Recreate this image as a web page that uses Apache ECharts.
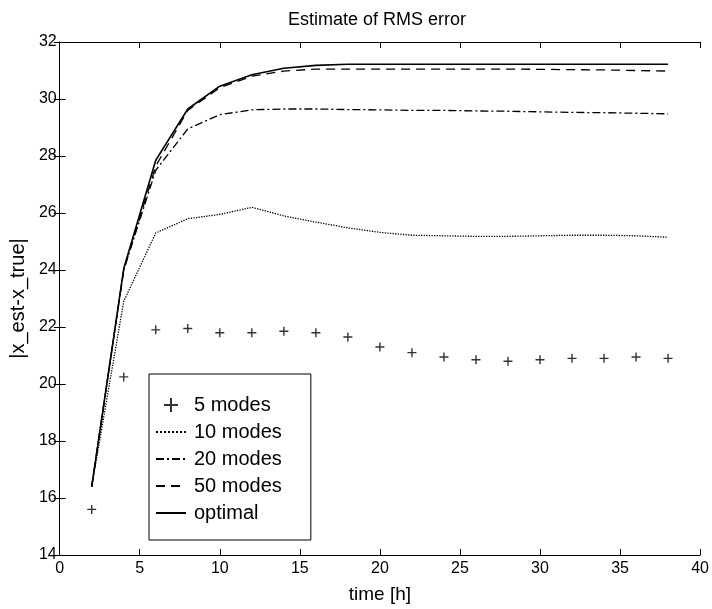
<!DOCTYPE html>
<html>
<head>
<meta charset="utf-8">
<script src="https://cdn.jsdelivr.net/npm/echarts@6/dist/echarts.min.js"></script>
<style>
  html, body { margin: 0; padding: 0; background: #fff; }
  #chart { width: 712px; height: 609px; }
</style>
</head>
<body>
<div id="chart"></div>
<script>
// time [h]
var times = [2, 4, 6, 8, 10, 12, 14, 16, 18, 20, 22, 24, 26, 28, 30, 32, 34, 36, 38];
var modes5 = [15.6, 20.25, 21.9, 21.95, 21.8, 21.8, 21.85, 21.8, 21.65, 21.3, 21.1, 20.95, 20.85, 20.8, 20.85, 20.9, 20.9, 20.95, 20.9];
var modes10 = [16.4, 22.9, 25.3, 25.8, 25.95, 26.2, 25.9, 25.68, 25.48, 25.32, 25.22, 25.2, 25.18, 25.18, 25.2, 25.22, 25.22, 25.2, 25.15];
var modes20 = [16.4, 24.0, 27.5, 28.95, 29.45, 29.62, 29.65, 29.65, 29.63, 29.62, 29.6, 29.6, 29.58, 29.57, 29.55, 29.53, 29.52, 29.5, 29.48];
var modes50 = [16.4, 24.0, 27.65, 29.6, 30.4, 30.8, 30.98, 31.05, 31.05, 31.05, 31.05, 31.05, 31.05, 31.05, 31.04, 31.03, 31.02, 31.0, 30.98];
var optimal = [16.4, 24.05, 27.85, 29.65, 30.45, 30.85, 31.08, 31.18, 31.22, 31.22, 31.22, 31.22, 31.22, 31.22, 31.22, 31.22, 31.22, 31.22, 31.22];
var names = ['5 modes', '10 modes', '20 modes', '50 modes', 'optimal'];

function pairs(ys) {
  return times.map(function (t, i) { return [t, ys[i]]; });
}

var FONT = 'Liberation Sans';
var chart = echarts.init(document.getElementById('chart'));

var tickAxis = {
  axisLine: { show: true, lineStyle: { color: '#000', width: 1 } },
  axisTick: { show: true, inside: true, length: 6, lineStyle: { color: '#000' } },
  splitLine: { show: false }
};

function lineSeries(name, data, width, type) {
  return {
    name: name,
    type: 'line',
    data: pairs(data),
    symbol: 'none',
    silent: true,
    lineStyle: { color: '#000', width: width, type: type },
    itemStyle: { color: '#000' }
  };
}

// legend entries: no dot on the line samples
var legendData = names.map(function (n, i) {
  return i === 0 ? { name: n } : { name: n, itemStyle: { opacity: 0 } };
});

var option = {
  backgroundColor: '#fff',
  animation: false,
  title: {
    text: 'Estimate of RMS error',
    left: 372,
    textAlign: 'center',
    top: 6,
    textStyle: { fontFamily: FONT, fontSize: 18, fontWeight: 'normal', color: '#000' }
  },
  grid: { left: 53, right: 11, top: 42, bottom: 52 },
  legend: {
    orient: 'vertical',
    left: 149,
    top: 374,
    padding: [21, 29, 17, 6],
    itemGap: 7,
    itemWidth: 30,
    itemHeight: 14,
    borderColor: '#000',
    borderWidth: 1,
    backgroundColor: '#fff',
    selectedMode: false,
    textStyle: { fontFamily: FONT, fontSize: 20, color: '#000', lineHeight: 20, padding: [0, 0, 0, 3] },
    data: legendData
  },
  xAxis: [
    Object.assign({
      type: 'value', min: 0, max: 40, interval: 5,
      name: 'time [h]', nameLocation: 'middle', nameGap: 30,
      nameTextStyle: { fontFamily: FONT, fontSize: 19, color: '#000' },
      axisLabel: { fontFamily: FONT, fontSize: 16, color: '#000', margin: 6 }
    }, tickAxis),
    Object.assign({
      type: 'value', min: 0, max: 40, interval: 5, position: 'top',
      axisLabel: { show: false }
    }, tickAxis)
  ],
  yAxis: [
    Object.assign({
      type: 'value', min: 14, max: 32, interval: 2,
      name: '|x_est-x_true|', nameLocation: 'middle', nameGap: 26,
      nameTextStyle: { fontFamily: FONT, fontSize: 20, color: '#000' },
      axisLabel: { fontFamily: FONT, fontSize: 16, color: '#000', margin: 3 }
    }, tickAxis),
    Object.assign({
      type: 'value', min: 14, max: 32, interval: 2, position: 'right',
      axisLabel: { show: false }
    }, tickAxis)
  ],
  series: [
    {
      name: '5 modes',
      type: 'scatter',
      data: pairs(modes5),
      symbol: 'path://M5,0 L5,10 M0,5 L10,5',
      symbolSize: 9,
      silent: true,
      itemStyle: { color: 'transparent', borderColor: '#000', borderWidth: 1.4 }
    },
    lineSeries('10 modes', modes10, 1.3, 'dotted'),
    lineSeries('20 modes', modes20, 1.3, [8, 3, 2, 3]),
    lineSeries('50 modes', modes50, 1.3, [9, 6]),
    lineSeries('optimal', optimal, 1.6, 'solid')
  ]
};

chart.setOption(option);
</script>
</body>
</html>
